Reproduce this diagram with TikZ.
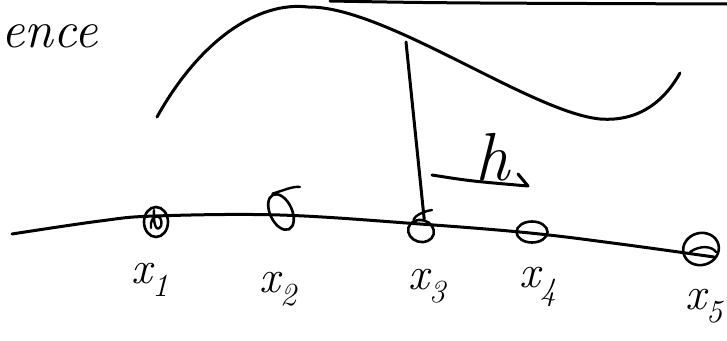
\documentclass[tikz,border=0pt]{standalone}
\usepackage{fontspec}
\usetikzlibrary{shapes.geometric}
\begin{document}
\begin{tikzpicture}[x=1pt,y=-1pt,
  ink/.style={line width=3pt,line cap=round,line join=round},
  thin ink/.style={line width=2.4pt,line cap=round,line join=round},
  dot/.style={draw,ellipse,line width=2.6pt,inner sep=0pt},
  lab/.style={font=\fontsize{46}{48}\selectfont\itshape,inner sep=0pt}]
\useasboundingbox (0,0) rectangle (727,340);
% partial word at top left
\node[font=\fontsize{52}{54}\selectfont\itshape,anchor=west,inner sep=0pt] (word) at (1,36) {ence};
% top border line
\coordinate (t1) at (330,1);
\coordinate (t2) at (727,4);
\draw[ink] (t1) .. controls (440,3) .. (t2);
% the curve
\coordinate (c0) at (157,117);
\coordinate (c1) at (308,7);
\coordinate (c2) at (600,119);
\coordinate (c3) at (680,73);
\draw[ink] (c0) .. controls (200,40) and (258,1) .. (c1)
  .. controls (385,6) and (530,112) .. (c2)
  .. controls (640,122) and (665,100) .. (c3);
% axis
\coordinate (a0) at (12,234);
\coordinate (a9) at (714,257);
\draw[ink] plot[smooth,tension=0.6] coordinates {(12,234) (100,221) (155,216) (280,215) (420,224) (530,233) (620,244) (714,257)};
% markers
\node[dot,minimum width=24pt,minimum height=30pt] (p1) at (156,222) {};
\draw[thin ink] (151,228) .. controls (149,214) and (164,212) .. (161,226) .. controls (156,234) and (153,222) .. (154,210);
\node[dot,minimum width=22pt,minimum height=38pt,rotate=25] (p2) at (281,212) {};
\draw[thin ink] (p2.north) .. controls (285,190) and (293,186) .. (300,187);
\node[dot,minimum width=26pt,minimum height=22pt,rotate=-15] (p3) at (421,231) {};
\draw[thin ink] (p3.north west) .. controls (415,215) and (425,211) .. (432,210);
\node[dot,minimum width=31pt,minimum height=21pt] (p4) at (532,232) {};
\node[dot,minimum width=36pt,minimum height=32pt,rotate=15] (p5) at (701,249) {};
\draw[thin ink] (690,252) .. controls (700,245) and (712,246) .. (716,252);
% vertical line
\coordinate (v0) at (406,42);
\draw[ink] (v0) -- (p3.north);
% h with underline
\node[font=\fontsize{68}{70}\selectfont\itshape,inner sep=0pt,anchor=base] (h) at (492,180) {h};
\coordinate (u0) at (432,175);
\coordinate (u1) at (528,186);
\coordinate (u2) at (518,174);
\draw[ink] (u0) .. controls (470,181) .. (u1) -- (u2);
% labels
\node[lab] (l1) at (150,280) {x\textsubscript{1}};
\node[lab] (l2) at (278,289) {x\textsubscript{2}};
\node[lab] (l3) at (427,286) {x\textsubscript{3}};
\node[lab] (l4) at (538,287) {x\textsubscript{4}};
\node[lab] (l5) at (704,306) {x\textsubscript{5}};
\end{tikzpicture}
\end{document}
